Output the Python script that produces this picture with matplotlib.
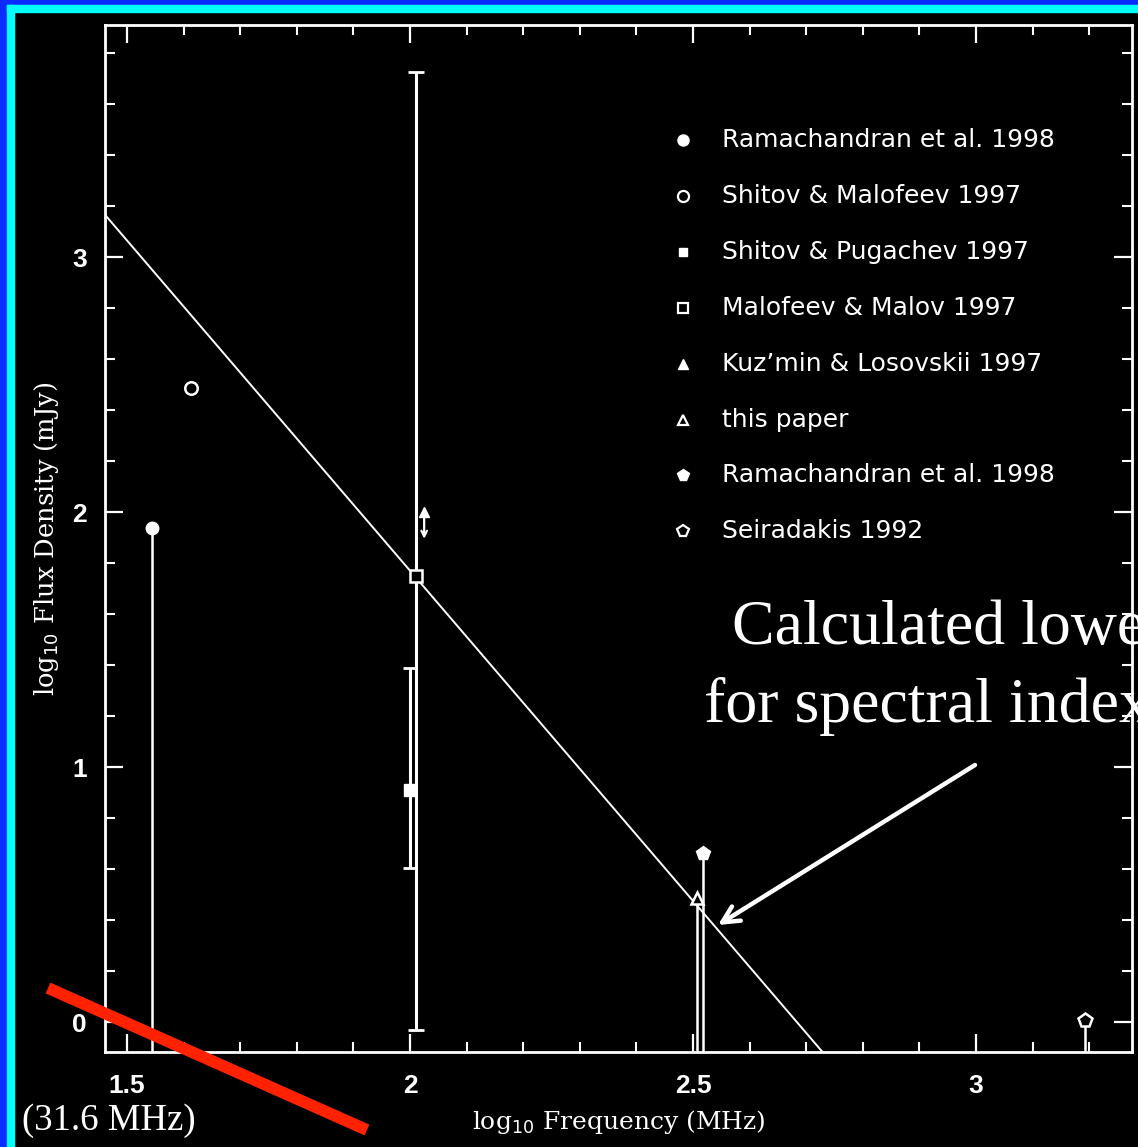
import matplotlib
matplotlib.use("Agg")
import matplotlib.pyplot as plt
from matplotlib.patches import Rectangle
from matplotlib.lines import Line2D

# ---- data: log10 frequency (MHz) vs log10 flux density (mJy) ----
ram_x, ram_y = [1.544], [1.937]            # Ramachandran et al. 1998 (lower limit)
shm_x, shm_y = [1.613], [2.486]            # Shitov & Malofeev 1997
shp_x, shp_y = [2.000], [0.910]            # Shitov & Pugachev 1997
shp_lo, shp_hi = [0.604], [1.388]
mm_x, mm_y = [2.011], [1.749]              # Malofeev & Malov 1997
mm_lo, mm_hi = [-0.031], [3.725]
kl_x, kl_y = [2.025], [2.000]              # Kuz'min & Losovskii 1997
kl_lo = [1.895]
this_x, this_y = [2.507], [0.486]          # this paper
ram2_x, ram2_y = [2.518], [0.663]          # Ramachandran et al. 1998
sei_x, sei_y = [3.193], [0.008]            # Seiradakis 1992

# power-law fit: log S = a + b log f
fit_a, fit_b = 6.95, -2.59

legend_labels = ["Ramachandran et al. 1998", "Shitov & Malofeev 1997",
                 "Shitov & Pugachev 1997", "Malofeev & Malov 1997",
                 "Kuz\u2019min & Losovskii 1997", "this paper",
                 "Ramachandran et al. 1998", "Seiradakis 1992"]

xticks_major = [1.5, 2, 2.5, 3]
xtick_labels = ["1.5", "2", "2.5", "3"]
yticks_major = [0, 1, 2, 3]
ytick_labels = ["0", "1", "2", "3"]

W, H = 1138, 1147
fig = plt.figure(figsize=(W / 100, H / 100), dpi=100, facecolor="black")


def fx(px):
    return px / W


def fy(py):
    return 1 - py / H


ax = fig.add_axes([fx(105), fy(1052), fx(1132) - fx(105), fy(25) - fy(1052)])
ax.set_facecolor("black")
xmin, xmax = 1.4611, 3.2756
ymin, ymax = -0.1176, 3.910

W_ = "white"
sans = ["Liberation Sans", "DejaVu Sans"]
wide_sans = ["DejaVu Sans"]
serif = ["DejaVu Serif"]
times = ["Liberation Serif", "DejaVu Serif"]

for s in ax.spines.values():
    s.set_color(W_)
    s.set_linewidth(2.0)

ax.set_xticks(xticks_major)
ax.set_xticklabels(xtick_labels)
ax.set_yticks(yticks_major)
ax.set_yticklabels(ytick_labels)
ax.set_xticks([1.5 + 0.1 * i for i in range(0, 18)], minor=True)
ax.set_yticks([0.2 * i for i in range(0, 20)], minor=True)
ax.set_xlim(xmin, xmax)
ax.set_ylim(ymin, ymax)
ax.tick_params(which="both", direction="in", top=True, right=True, colors=W_)
ax.tick_params(which="major", length=13, width=1.6)
ax.tick_params(axis="x", which="major", pad=16)
ax.tick_params(axis="y", which="major", pad=13)
ax.tick_params(which="minor", length=7, width=1.5)
for lab in ax.get_xticklabels() + ax.get_yticklabels():
    lab.set_fontfamily(sans)
    lab.set_fontsize(19)
    lab.set_fontweight("bold")
    lab.set_color(W_)

ax.set_xlabel(r"log$_{10}$ Frequency (MHz)", color=W_, fontsize=18,
              fontfamily=serif, labelpad=7)
ax.set_ylabel(r"log$_{10}$ Flux Density (mJy)", color=W_, fontsize=18.5,
              fontfamily=serif, labelpad=8)

lw = 1.8
# fitted spectrum
fx_line = [xmin, xmax]
ax.plot(fx_line, [fit_a + fit_b * v for v in fx_line], color=W_, lw=1.4, zorder=3)

# lower limits drawn down to the axis
for xs, ys in [(ram_x, ram_y), (this_x, this_y), (ram2_x, ram2_y), (sei_x, sei_y)]:
    ax.vlines(xs, ymin, ys, color=W_, lw=lw, zorder=3)

# error bars
ax.errorbar(mm_x, mm_y, yerr=[[mm_y[0] - mm_lo[0]], [mm_hi[0] - mm_y[0]]],
            fmt="none", ecolor=W_, elinewidth=2.2, capsize=6, capthick=2, zorder=3)
ax.errorbar(shp_x, shp_y, yerr=[[shp_y[0] - shp_lo[0]], [shp_hi[0] - shp_y[0]]],
            fmt="none", ecolor=W_, elinewidth=2.2, capsize=5, capthick=2, zorder=3)

# Kuz'min & Losovskii range arrow
ax.annotate("", xy=(kl_x[0], kl_lo[0]), xytext=(kl_x[0], kl_y[0]),
            arrowprops=dict(arrowstyle="->", color=W_, lw=1.6,
                            mutation_scale=10, shrinkA=0, shrinkB=0), zorder=3)

ms = 9
ax.plot(ram_x, ram_y, "o", color=W_, ms=ms, zorder=4)
ax.plot(shm_x, shm_y, "o", mfc="black", mec=W_, mew=1.8, ms=ms, zorder=4)
ax.plot(shp_x, shp_y, "s", color=W_, ms=8, zorder=4)
ax.plot(mm_x, mm_y, "s", mfc="black", mec=W_, mew=1.8, ms=8, zorder=4)
ax.plot(kl_x, kl_y, "^", color=W_, ms=7, zorder=4)
ax.plot(this_x, this_y, "^", mfc="black", mec=W_, mew=1.8, ms=9, zorder=4)
ax.plot(ram2_x, ram2_y, "p", color=W_, ms=10, zorder=4)
ax.plot(sei_x, sei_y, "p", mfc="black", mec=W_, mew=1.8, ms=10, zorder=4)

# key
key_styles = [
    dict(marker="o", mfc=W_, mec=W_, ms=8),
    dict(marker="o", mfc="black", mec=W_, mew=1.6, ms=8),
    dict(marker="s", mfc=W_, mec=W_, ms=6),
    dict(marker="s", mfc="black", mec=W_, mew=1.6, ms=6.5),
    dict(marker="^", mfc=W_, mec=W_, ms=7),
    dict(marker="^", mfc="black", mec=W_, mew=1.6, ms=6.5),
    dict(marker="p", mfc=W_, mec=W_, ms=8.5),
    dict(marker="p", mfc="black", mec=W_, mew=1.6, ms=8.5),
]


def ax_x(px):
    return (px - 105) / (1132 - 105)


def ax_y(py):
    return (1052 - py) / (1052 - 25)


for i, (lab, st) in enumerate(zip(legend_labels, key_styles)):
    yy = ax_y(140 + 55.9 * i)
    ax.plot([ax_x(683)], [yy], transform=ax.transAxes, ls="none", zorder=4, **st)
    ax.text(ax_x(722), yy, lab, transform=ax.transAxes, color=W_, fontsize=18,
            fontfamily=wide_sans, va="center", ha="left")

# slide annotations
fig.text(fx(732), fy(644), "Calculated lower limit", color=W_, fontsize=46,
         fontfamily=times, ha="left", va="baseline", zorder=0)
fig.text(fx(704), fy(722), "for spectral index", color=W_, fontsize=46,
         fontfamily=times, ha="left", va="baseline", zorder=0)
fig.text(fx(22), fy(1130), "(31.6 MHz)", color=W_, fontsize=26.5,
         fontfamily=times, ha="left", va="baseline")

ax.annotate("", xy=(718, H - 925), xycoords="figure pixels",
            xytext=(975, H - 765), textcoords="figure pixels",
            arrowprops=dict(arrowstyle="->,head_length=1.2,head_width=0.6",
                            color=W_, lw=3.2, shrinkA=0, shrinkB=0),
            zorder=6)

fig.add_artist(Line2D([fx(48), fx(367)], [fy(988), fy(1130)], color="#ff2200",
                      lw=8.5, solid_capstyle="butt", transform=fig.transFigure,
                      zorder=10))

# slide frame (top and left edges)
blue, cyan = "#0a2cff", "#00ffff"
fig.add_artist(Rectangle((0, 0), fx(7), 1, color=blue, transform=fig.transFigure, zorder=11))
fig.add_artist(Rectangle((0, fy(5)), 1, 1 - fy(5), color=blue, transform=fig.transFigure, zorder=11))
fig.add_artist(Rectangle((fx(7), 0), fx(7), fy(5), color=cyan, transform=fig.transFigure, zorder=11))
fig.add_artist(Rectangle((fx(7), fy(12)), 1 - fx(7), fy(5) - fy(12), color=cyan,
                         transform=fig.transFigure, zorder=11))

fig.savefig("out.png", dpi=100, facecolor="black")
